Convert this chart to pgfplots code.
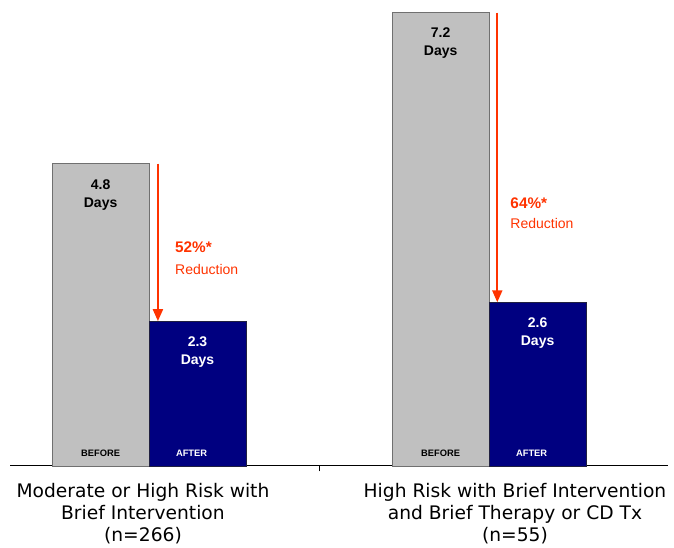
\documentclass[border=0pt]{standalone}
\usepackage{fontspec}
\setmainfont{DejaVu Sans}
\newfontfamily\arial{Liberation Sans}
\usepackage{pgfplots}
\pgfplotsset{compat=1.18}
\usetikzlibrary{arrows.meta}
\definecolor{bargray}{HTML}{C0C0C0}
\definecolor{bargrayedge}{HTML}{707070}
\definecolor{navy}{HTML}{000080}
\definecolor{navyedge}{HTML}{202040}
\definecolor{redarrow}{HTML}{FF3300}
\begin{document}
\begin{tikzpicture}
\begin{axis}[
  at={(7.5pt,61.5pt)}, anchor=south west,
  scale only axis, width=493.5pt, height=349.5pt,
  xmin=-0.409, xmax=1.526, ymin=0, ymax=7.4,
  axis x line*=bottom, hide y axis,
  axis line style={black, line width=0.75pt, -},
  ybar=0pt, bar width=0.285,
  /pgf/number format/assume math mode=true,
  xtick={0.5}, xticklabels={},
  tick align=outside, major tick length=4pt,
  tick style={black, line width=0.5pt},
  extra x ticks={-0.018,1.076},
  extra x tick labels={{Moderate or High Risk with\\Brief Intervention\\(n=266)},{High Risk with Brief Intervention\\and Brief Therapy or CD Tx\\(n=55)}},
  extra x tick style={major tick length=0pt, tick style={draw=none}},
  xticklabel style={align=center, font=\fontsize{14}{16.5}\selectfont, yshift=-9.5pt},
  nodes near coords={\pgfmathprintnumber[fixed,precision=1,fixed zerofill,assume math mode=true]{\pgfplotspointmeta}\\Days},
  every node near coord/.append style={anchor=north, align=center, yshift=-8pt,
     font=\arial\bfseries\fontsize{10.5}{13.5}\selectfont},
  clip=false,
]
\addplot[fill=bargray, draw=bargrayedge, line width=0.6pt,
  every node near coord/.append style={text=black}]
  coordinates {(0,4.8) (1,7.2)};
\addplot[fill=navy, draw=navyedge, line width=0.6pt,
  every node near coord/.append style={text=white}]
  coordinates {(0,2.3) (1,2.6)};
% arrows
\draw[redarrow, line width=1.5pt, -{Triangle[width=7.5pt,length=9pt]}]
  (axis cs:0.026,4.8) -- (axis cs:0.026,2.3);
\draw[redarrow, line width=1.5pt, -{Triangle[width=7.5pt,length=9pt]}]
  (axis cs:1.024,7.2) -- (axis cs:1.024,2.6);
% reduction labels
\node[anchor=west, text=redarrow, font=\arial\bfseries\fontsize{11.5}{13}\selectfont, inner sep=0pt] at (axis cs:0.076,3.476) {52\%*};
\node[anchor=west, text=redarrow, font=\arial\fontsize{10.5}{12}\selectfont, inner sep=0pt] at (axis cs:0.076,3.127) {Reduction};
\node[anchor=west, text=redarrow, font=\arial\bfseries\fontsize{11.5}{13}\selectfont, inner sep=0pt] at (axis cs:1.062,4.175) {64\%*};
\node[anchor=west, text=redarrow, font=\arial\fontsize{10.5}{12}\selectfont, inner sep=0pt] at (axis cs:1.062,3.857) {Reduction};
% before/after labels
\node[font=\arial\bfseries\fontsize{7}{8}\selectfont, text=black] at (axis cs:-0.1425,0.2) {BEFORE};
\node[font=\arial\bfseries\fontsize{7}{8}\selectfont, text=white] at (axis cs:0.125,0.2) {AFTER};
\node[font=\arial\bfseries\fontsize{7}{8}\selectfont, text=black] at (axis cs:0.8575,0.2) {BEFORE};
\node[font=\arial\bfseries\fontsize{7}{8}\selectfont, text=white] at (axis cs:1.125,0.2) {AFTER};
\end{axis}
\pgfresetboundingbox
\path (0,0) rectangle (505.5pt,411pt);
\end{tikzpicture}
\end{document}
